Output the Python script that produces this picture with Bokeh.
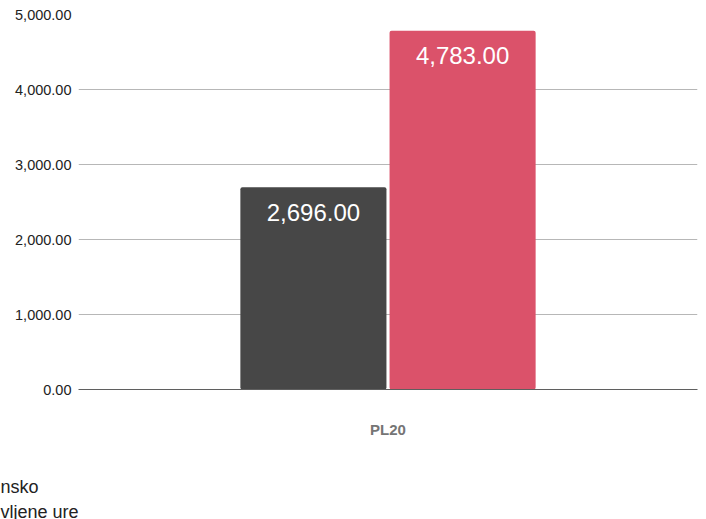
from bokeh.plotting import figure
from bokeh.models import FactorRange, Range1d, NumeralTickFormatter, Title, ColumnDataSource, FixedTicker
from bokeh.transform import dodge
from bokeh.core.properties import value
from bokeh.embed import file_html
from bokeh.resources import INLINE

categories = ["PL20"]
series_a = [2696.00]
series_b = [4783.00]
y_ticks = [0, 1000, 2000, 3000, 4000, 5000]
legend_labels = ["nsko", "vljene ure"]
colors = ["#474747", "#db526a"]

FONT = "Liberation Sans"

src_a = ColumnDataSource(dict(cat=categories, val=series_a,
                              label=[f"{v:,.2f}" for v in series_a]))
src_b = ColumnDataSource(dict(cat=categories, val=series_b,
                              label=[f"{v:,.2f}" for v in series_b]))

p = figure(width=706, height=519,
           x_range=FactorRange(*categories, range_padding=0),
           y_range=Range1d(0, 5000),
           output_backend="svg", toolbar_location=None,
           min_border_left=78, min_border_right=9,
           min_border_top=14, min_border_bottom=130)
p.outline_line_color = None
p.background_fill_color = "white"
p.border_fill_color = "white"

bw = 0.236
off = 0.1205
p.vbar(x=dodge("cat", -off, range=p.x_range), top="val", width=bw, source=src_a,
       fill_color=colors[0], line_color=None, border_radius=2)
p.vbar(x=dodge("cat", off, range=p.x_range), top="val", width=bw, source=src_b,
       fill_color=colors[1], line_color=None, border_radius=2)

for src, o in ((src_a, -off), (src_b, off)):
    p.text(x=dodge("cat", o, range=p.x_range), y="val", text="label", source=src,
           text_color="white", text_font=value(FONT), text_font_size="24px",
           text_align="center", text_baseline="middle", y_offset=25)

# axes
p.yaxis.ticker = FixedTicker(ticks=y_ticks)
p.yaxis.formatter = NumeralTickFormatter(format="0,0.00")
p.yaxis.axis_line_color = None
p.yaxis.major_tick_line_color = None
p.yaxis.minor_tick_line_color = None
p.yaxis.major_tick_out = 0
p.yaxis.major_label_standoff = 7
p.yaxis.major_label_text_font = FONT
p.yaxis.major_label_text_font_size = "14.5px"
p.yaxis.major_label_text_color = "#222222"

p.xaxis.axis_line_color = "#5f5f5f"
p.xaxis.major_tick_line_color = None
p.xaxis.minor_tick_line_color = None
p.xaxis.major_tick_out = 0
p.xaxis.major_label_standoff = 31
p.xaxis.major_label_text_font = FONT
p.xaxis.major_label_text_font_size = "15px"
p.xaxis.major_label_text_font_style = "bold"
p.xaxis.major_label_text_color = "#757575"
# invisible spacer label so the legend text sits lower
p.xaxis.axis_label = " "
p.xaxis.axis_label_text_font_size = "10px"
p.xaxis.axis_label_standoff = 23

p.xgrid.grid_line_color = None
p.ygrid.grid_line_color = "#b7b7b7"
p.ygrid.grid_line_width = 1

# legend text (clipped at left in reference), as a two-line title below the x axis
p.add_layout(Title(text="\n".join(legend_labels), align="left", offset=-78, standoff=-6,
                   text_font=FONT, text_font_size="18px", text_line_height=1.28,
                   text_font_style="normal", text_color="#222222"), "below")

open("out.html", "w").write(file_html(p, INLINE))
